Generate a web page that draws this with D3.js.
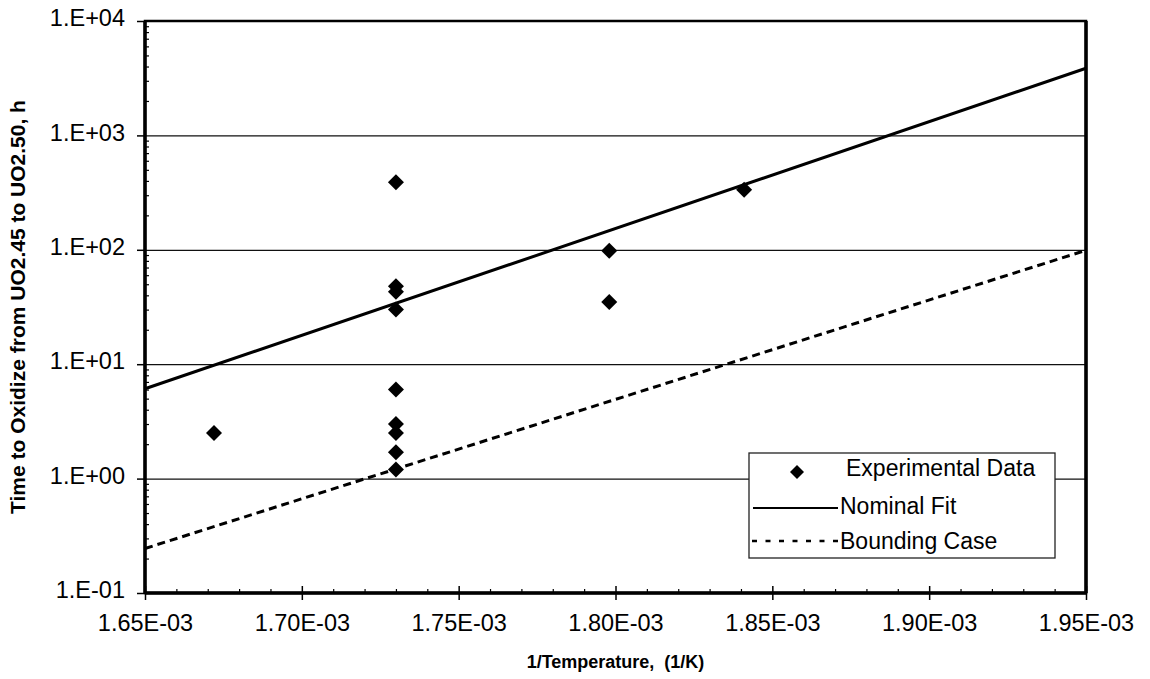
<!DOCTYPE html>
<html>
<head>
<meta charset="utf-8">
<script src="https://cdn.jsdelivr.net/npm/d3@7"></script>
<style>
  html, body { margin: 0; padding: 0; background: #fff; }
  svg { display: block; font-family: "Liberation Sans", Arial, sans-serif; }
  text { white-space: pre; }
</style>
</head>
<body>
<svg id="chart" width="1150" height="679"></svg>
<script>
// Oxidation time (UO2.45 -> UO2.50) versus inverse temperature
const expInvT  = [1.672e-3, 1.730e-3, 1.730e-3, 1.730e-3, 1.730e-3, 1.730e-3, 1.730e-3, 1.730e-3, 1.730e-3, 1.730e-3, 1.798e-3, 1.798e-3, 1.841e-3];
const expHours = [2.5, 390, 48, 43, 30, 6.0, 3.0, 2.5, 1.7, 1.2, 98, 35, 335];

// Fitted lines evaluated at the ends of the 1/T range
const fitInvT      = [1.65e-3, 1.95e-3];
const nominalHours = [6.1, 3860];
const boundingHours = [0.245, 99];

const xTicks = [1.65e-3, 1.70e-3, 1.75e-3, 1.80e-3, 1.85e-3, 1.90e-3, 1.95e-3];
const xTickLabels = ["1.65E-03", "1.70E-03", "1.75E-03", "1.80E-03", "1.85E-03", "1.90E-03", "1.95E-03"];
const yTicks = [0.1, 1, 10, 100, 1000, 10000];
const yTickLabels = ["1.E-01", "1.E+00", "1.E+01", "1.E+02", "1.E+03", "1.E+04"];

const legendLabels = ["Experimental Data", "Nominal Fit", "Bounding Case"];

const svg = d3.select("#chart");
const L = 145, R = 1086, T = 21, B = 593;

const x = d3.scaleLinear().domain([1.65e-3, 1.95e-3]).range([L, R]);
const y = d3.scaleLog().domain([0.1, 1e4]).range([B, T]);

// horizontal gridlines at each decade
svg.append("g")
  .attr("transform", `translate(${L},0)`)
  .call(d3.axisLeft(y).tickValues(yTicks.slice(1, -1)).tickSize(-(R - L)).tickFormat(""))
  .call(g => g.select(".domain").remove())
  .call(g => g.selectAll("line").attr("stroke", "#111").attr("stroke-width", 1.3));

// minor ticks (inside)
const yMinor = [];
for (let e = -1; e < 4; e++) for (let m = 2; m <= 9; m++) yMinor.push(m * Math.pow(10, e));
svg.append("g")
  .attr("transform", `translate(${L},0)`)
  .call(d3.axisLeft(y).tickValues(yMinor).tickSize(-4).tickFormat(""))
  .call(g => g.select(".domain").remove())
  .call(g => g.selectAll("line").attr("stroke", "#000").attr("stroke-width", 1.2));

const xMinor = d3.range(0, 31).map(i => 1.65e-3 + i * 1e-5).filter((d, i) => i % 5 !== 0);
svg.append("g")
  .attr("transform", `translate(0,${B})`)
  .call(d3.axisBottom(x).tickValues(xMinor).tickSize(-4).tickFormat(""))
  .call(g => g.select(".domain").remove())
  .call(g => g.selectAll("line").attr("stroke", "#000").attr("stroke-width", 1.2));

// fitted lines
const line = d3.line().x(d => x(d[0])).y(d => y(d[1]));
svg.append("path")
  .datum(fitInvT.map((t, i) => [t, nominalHours[i]]))
  .attr("d", line).attr("fill", "none").attr("stroke", "#000").attr("stroke-width", 3);
svg.append("path")
  .datum(fitInvT.map((t, i) => [t, boundingHours[i]]))
  .attr("d", line).attr("fill", "none").attr("stroke", "#000").attr("stroke-width", 3)
  .attr("stroke-dasharray", "8,5");

// experimental points
const diamond = s => `M0,${-s}L${s},0L0,${s}L${-s},0Z`;
svg.append("g").selectAll("path")
  .data(expInvT.map((t, i) => [t, expHours[i]]))
  .join("path")
  .attr("transform", d => `translate(${x(d[0])},${y(d[1])})`)
  .attr("d", diamond(8))
  .attr("fill", "#000");

// axes
svg.append("g")
  .attr("transform", `translate(${L},0)`)
  .call(d3.axisLeft(y).tickValues(yTicks).tickSize(8).tickPadding(12)
        .tickFormat((d, i) => yTickLabels[i]))
  .call(g => g.select(".domain").remove())
  .call(g => g.selectAll("line").attr("stroke", "#000").attr("stroke-width", 1.5))
  .call(g => g.selectAll("text").attr("font-size", 23.5).attr("fill", "#000")
        .attr("font-family", "Liberation Sans, Arial, sans-serif").attr("dy", "0.2em"));

svg.append("g")
  .attr("transform", `translate(0,${B})`)
  .call(d3.axisBottom(x).tickValues(xTicks).tickSize(7).tickPadding(14)
        .tickFormat((d, i) => xTickLabels[i]))
  .call(g => g.select(".domain").remove())
  .call(g => g.selectAll("line").attr("stroke", "#000").attr("stroke-width", 1.5).attr("y1", -7))
  .call(g => g.selectAll("text").attr("font-size", 23.5).attr("fill", "#000")
        .attr("font-family", "Liberation Sans, Arial, sans-serif"));

// plot frame
svg.append("rect")
  .attr("x", L).attr("y", T).attr("width", R - L).attr("height", B - T)
  .attr("fill", "none").attr("stroke", "#000").attr("stroke-width", 2.5);
svg.append("line").attr("x1", L).attr("x2", L).attr("y1", T).attr("y2", B)
  .attr("stroke", "#000").attr("stroke-width", 3.5);
svg.append("line").attr("x1", L).attr("x2", R).attr("y1", B).attr("y2", B)
  .attr("stroke", "#000").attr("stroke-width", 3.5);
svg.append("line").attr("x1", R).attr("x2", R).attr("y1", T).attr("y2", B)
  .attr("stroke", "#000").attr("stroke-width", 3.5);

// legend
const lg = svg.append("g");
lg.append("rect").attr("x", 749).attr("y", 453).attr("width", 306).attr("height", 105)
  .attr("fill", "#fff").attr("stroke", "#222").attr("stroke-width", 1.3);
lg.append("path").attr("transform", "translate(797,472)").attr("d", diamond(7)).attr("fill", "#000");
lg.append("line").attr("x1", 753).attr("x2", 838).attr("y1", 508).attr("y2", 508)
  .attr("stroke", "#000").attr("stroke-width", 2);
lg.append("line").attr("x1", 752).attr("x2", 840).attr("y1", 541).attr("y2", 541)
  .attr("stroke", "#000").attr("stroke-width", 2.5).attr("stroke-dasharray", "5,8.5");
const lgX = [846, 840, 840], lgY = [476, 514, 549];
legendLabels.forEach((t, i) => {
  lg.append("text").attr("x", lgX[i]).attr("y", lgY[i]).attr("font-size", 23).attr("fill", "#000").text(t);
});

// axis titles
svg.append("text")
  .attr("x", (L + R) / 2).attr("y", 668)
  .attr("text-anchor", "middle").attr("font-size", 18).attr("font-weight", "bold")
  .text("1/Temperature,  (1/K)");
svg.append("text")
  .attr("transform", `translate(25,${(T + B) / 2}) rotate(-90)`)
  .attr("text-anchor", "middle").attr("font-size", 21).attr("font-weight", "bold")
  .text("Time to Oxidize from UO2.45 to UO2.50, h");
</script>
</body>
</html>
